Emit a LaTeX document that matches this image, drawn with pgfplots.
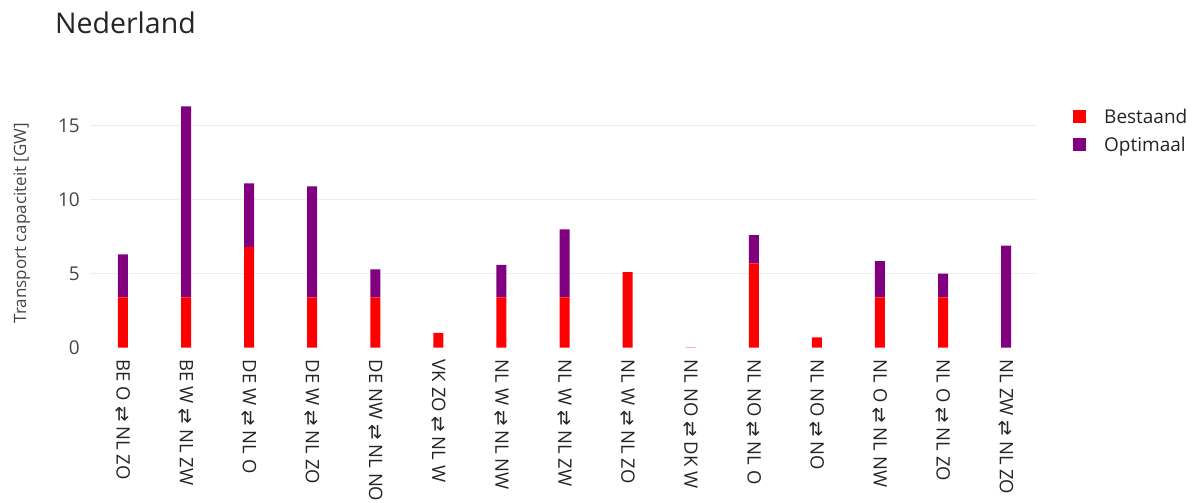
\documentclass[border=0pt]{standalone}
\usepackage{fontspec}
\setmainfont{Open Sans}
\newfontfamily\symfont{DejaVu Sans}
\usepackage{pgfplots}
\usepackage{pgfplotstable}
\pgfplotsset{compat=1.18}
\definecolor{bestaand}{HTML}{FF0000}
\definecolor{optimaal}{HTML}{800080}
\definecolor{txtdark}{HTML}{252423}
\definecolor{txtgray}{HTML}{484644}
\newcommand{\lr}{{\symfont ⇄}}
\pgfplotstableread{
x best opt
0 3.4 2.9
1 3.4 12.9
2 6.8 4.3
3 3.4 7.5
4 3.4 1.9
5 1.0 0
6 3.4 2.2
7 3.4 4.6
8 5.1 0
9 0.03 0
10 5.7 1.9
11 0.7 0
12 3.4 2.45
13 3.4 1.6
14 0 6.9
}\datatable
\begin{document}
\begin{tikzpicture}
\useasboundingbox (0,0) rectangle (1192bp,-503bp);
\clip (0,0) rectangle (1192bp,-503bp);
\begin{axis}[
  at={(90bp,-347.7bp)}, anchor=south west,
  scale only axis, width=947bp, height=251.6bp,
  xmin=-0.523, xmax=14.49, ymin=0, ymax=17,
  ybar stacked, bar width=10bp,
  axis line style={draw=none},
  major tick length=0pt,
  ytick={5,10,15},
  extra y ticks={0}, extra y tick style={grid=none},
  ymajorgrids, grid style={draw=black!7, line width=0.9bp},
  /pgf/number format/assume math mode=true,
  yticklabel style={font=\fontsize{19bp}{22bp}\selectfont, text=txtgray, inner sep=0pt, xshift=-10bp},
  xtick={0,...,14},
  xticklabels={
    BE O \lr{} NL ZO, BE W \lr{} NL ZW, DE W \lr{} NL O, DE W \lr{} NL ZO,
    DE NW \lr{} NL NO, VK ZO \lr{} NL W, NL W \lr{} NL NW, NL W \lr{} NL ZW,
    NL W \lr{} NL ZO, NL NO \lr{} DK W, NL NO \lr{} NL O, NL NO \lr{} NO,
    NL O \lr{} NL NW, NL O \lr{} NL ZO, NL ZW \lr{} NL ZO},
  xticklabel style={yshift=-12bp, rotate=-90, anchor=west, inner sep=0pt,
    font=\fontsize{18.5bp}{21bp}\selectfont, text=txtdark},
  ylabel={Transport capaciteit [GW]},
  every axis y label/.style={at={(axis description cs:-0.0718,0.4956)}, rotate=90, anchor=center,
    font=\fontsize{17bp}{20bp}\selectfont, text=txtgray, inner sep=0pt},
  title={Nederland},
  every axis title/.style={at={(axis description cs:-0.037,1.2496)}, anchor=base west,
    font=\fontsize{28.5bp}{34bp}\selectfont, text=txtdark, inner sep=0pt},
  legend image code/.code={\fill[#1] (0bp,0bp) rectangle (13bp,13bp);},
  legend style={at={(axis description cs:1.038,0.9487)}, anchor=north west,
    draw=none, fill=none, inner sep=0pt, row sep=10bp, column sep=18bp,
    font=\fontsize{19bp}{22bp}\selectfont, text=txtdark,
    nodes={inner sep=0pt, text height=14bp, text depth=4bp, anchor=base west}},
  legend cell align=left,
]
\addplot[fill=bestaand, draw=none] table[x=x, y=best] {\datatable};
\addplot[fill=optimaal, draw=none] table[x=x, y=opt] {\datatable};
\legend{Bestaand, Optimaal}
\end{axis}
\end{tikzpicture}
\end{document}
